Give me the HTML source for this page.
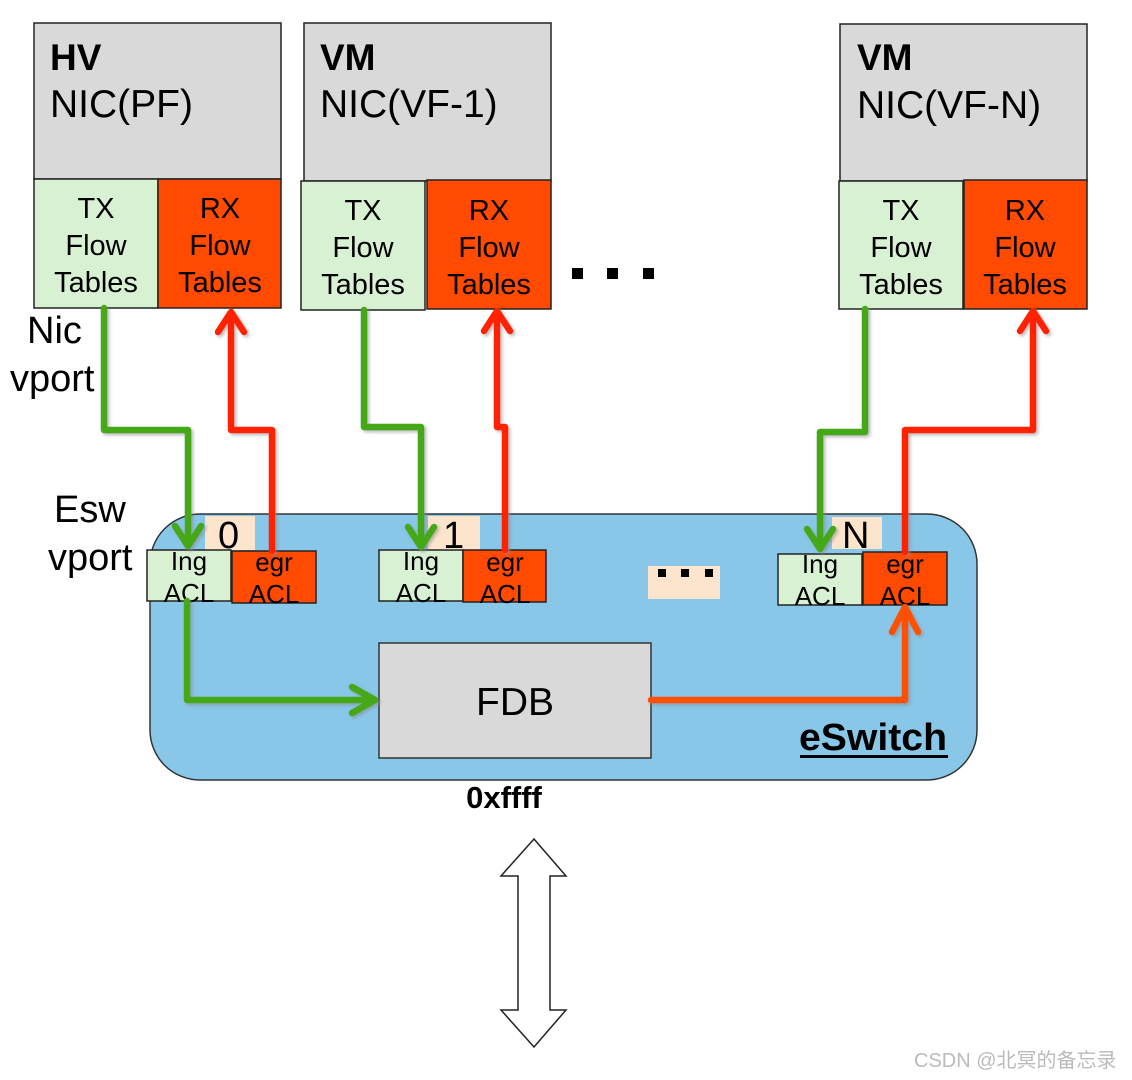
<!DOCTYPE html>
<html><head><meta charset="utf-8"><style>
html,body{margin:0;padding:0;background:#fff;width:1132px;height:1080px;overflow:hidden}
svg{display:block}
text{font-family:"Liberation Sans","Noto Sans CJK SC",sans-serif;fill:#000}
</style></head><body>
<svg width="1132" height="1080" viewBox="0 0 1132 1080">
<defs>
<filter id="sh" x="-20%" y="-20%" width="140%" height="140%"><feDropShadow dx="2" dy="2" stdDeviation="1.5" flood-color="#888" flood-opacity="0.6"/></filter>
</defs>
<rect x="34" y="23" width="247" height="156" fill="#d9d9d9" stroke="#222" stroke-width="1.5"/>
<text x="50" y="70" font-size="37" font-weight="bold">HV</text>
<text x="50" y="117" font-size="39">NIC(PF)</text>
<rect x="34" y="179" width="124" height="129" fill="#d8f1d2" stroke="#222" stroke-width="1.5"/>
<rect x="158" y="179" width="123" height="129" fill="#ff4a00" stroke="#222" stroke-width="1.5"/>
<g font-size="29" text-anchor="middle">
<text x="96" y="218">TX</text><text x="96" y="255">Flow</text><text x="96" y="292">Tables</text>
<text x="220" y="218">RX</text><text x="220" y="255">Flow</text><text x="220" y="292">Tables</text>
</g>
<rect x="304" y="23" width="247" height="158" fill="#d9d9d9" stroke="#222" stroke-width="1.5"/>
<text x="320" y="70" font-size="37" font-weight="bold">VM</text>
<text x="320" y="117" font-size="39">NIC(VF-1)</text>
<rect x="301" y="181" width="124" height="129" fill="#d8f1d2" stroke="#222" stroke-width="1.5"/>
<rect x="427" y="180" width="124" height="129" fill="#ff4a00" stroke="#222" stroke-width="1.5"/>
<g font-size="29" text-anchor="middle">
<text x="363" y="220">TX</text><text x="363" y="257">Flow</text><text x="363" y="294">Tables</text>
<text x="489" y="220">RX</text><text x="489" y="257">Flow</text><text x="489" y="294">Tables</text>
</g>
<rect x="840" y="24" width="247" height="157" fill="#d9d9d9" stroke="#222" stroke-width="1.5"/>
<text x="857" y="70" font-size="37" font-weight="bold">VM</text>
<text x="857" y="118" font-size="39">NIC(VF-N)</text>
<rect x="839" y="181" width="124" height="128" fill="#d8f1d2" stroke="#222" stroke-width="1.5"/>
<rect x="964" y="180" width="123" height="129" fill="#ff4a00" stroke="#222" stroke-width="1.5"/>
<g font-size="29" text-anchor="middle">
<text x="901" y="220">TX</text><text x="901" y="257">Flow</text><text x="901" y="294">Tables</text>
<text x="1025" y="220">RX</text><text x="1025" y="257">Flow</text><text x="1025" y="294">Tables</text>
</g>
<rect x="572" y="268" width="11" height="11" fill="#000"/>
<rect x="607" y="268" width="11" height="11" fill="#000"/>
<rect x="643" y="268" width="11" height="11" fill="#000"/>
<g font-size="38">
<text x="27" y="343">Nic</text><text x="10" y="391">vport</text>
<text x="54" y="522">Esw</text><text x="48" y="570">vport</text>
</g>
<rect x="150" y="514" width="827" height="266" rx="50" ry="50" fill="#88c7e8" stroke="#333" stroke-width="1.5"/>
<rect x="205" y="516" width="50" height="34" fill="#fde5cd"/>
<rect x="428" y="516" width="52" height="34" fill="#fde5cd"/>
<rect x="832" y="517" width="50" height="32" fill="#fde5cd"/>
<g font-size="38">
<text x="218" y="548">0</text><text x="443" y="548">1</text><text x="842" y="548">N</text>
</g>
<rect x="648" y="566" width="72" height="33" fill="#fde5cd"/>
<rect x="658" y="569" width="8" height="8" fill="#000"/>
<rect x="681" y="569" width="8" height="8" fill="#000"/>
<rect x="705" y="569" width="8" height="8" fill="#000"/>
<g stroke="#222" stroke-width="1.5">
<rect x="147" y="550" width="84" height="51" fill="#d8f1d2"/>
<rect x="232" y="551" width="84" height="52" fill="#ff4a00"/>
<rect x="379" y="550" width="84" height="51" fill="#d8f1d2"/>
<rect x="463" y="550" width="83" height="52" fill="#ff4a00"/>
<rect x="778" y="554" width="84" height="51" fill="#d8f1d2"/>
<rect x="863" y="552" width="84" height="53" fill="#ff4a00"/>
</g>
<g font-size="26" text-anchor="middle">
<text x="189" y="570">Ing</text><text x="189" y="602">ACL</text>
<text x="274" y="571">egr</text><text x="274" y="603">ACL</text>
<text x="421" y="570">Ing</text><text x="421" y="602">ACL</text>
<text x="505" y="571">egr</text><text x="505" y="603">ACL</text>
<text x="820" y="573">Ing</text><text x="820" y="605">ACL</text>
<text x="905" y="573">egr</text><text x="905" y="605">ACL</text>
</g>
<rect x="379" y="643" width="272" height="115" fill="#d9d9d9" stroke="#333" stroke-width="1.5"/>
<text x="515" y="715" font-size="39" text-anchor="middle">FDB</text>
<text x="799" y="750" font-size="38" font-weight="bold" textLength="148" lengthAdjust="spacingAndGlyphs">eSwitch</text>
<rect x="800" y="755" width="148" height="3" fill="#000"/>
<g fill="none" stroke-width="6.5" stroke-linejoin="round" stroke-linecap="round" filter="url(#sh)">
<path d="M104 308 V430 H188 V545" stroke="#45a818"/>
<path d="M175 526 L188 546 L201 526" stroke="#45a818"/>
<path d="M272 551 V430 H231 V313" stroke="#ff2200"/>
<path d="M218 332 L231 312 L244 332" stroke="#ff2200"/>
<path d="M364 310 V427 H421 V546" stroke="#45a818"/>
<path d="M408 527 L421 547 L434 527" stroke="#45a818"/>
<path d="M505 550 V427 H497 V312" stroke="#ff2200"/>
<path d="M484 331 L497 311 L510 331" stroke="#ff2200"/>
<path d="M865 309 V432 H820 V548" stroke="#45a818"/>
<path d="M807 529 L820 549 L833 529" stroke="#45a818"/>
<path d="M905 552 V430 H1033 V312" stroke="#ff2200"/>
<path d="M1020 331 L1033 311 L1046 331" stroke="#ff2200"/>
<path d="M187 601 V700 H374" stroke="#45a818"/>
<path d="M352 687 L375 700 L352 713" stroke="#45a818"/>
<path d="M651 700 H905 V608" stroke="#ff5000"/>
<path d="M892 632 L905 607 L918 632" stroke="#ff5000"/>
</g>
<text x="504" y="808" font-size="31" font-weight="bold" text-anchor="middle">0xffff</text>
<path d="M534 839 L566 876 L550 876 L550 1010 L566 1010 L534 1047 L501 1010 L518 1010 L518 876 L501 876 Z" fill="#fff" stroke="#222" stroke-width="1.5"/>
<text x="914" y="1067" font-size="20" style="fill:#bbb">CSDN @北冥的备忘录</text>
</svg>
</body></html>
